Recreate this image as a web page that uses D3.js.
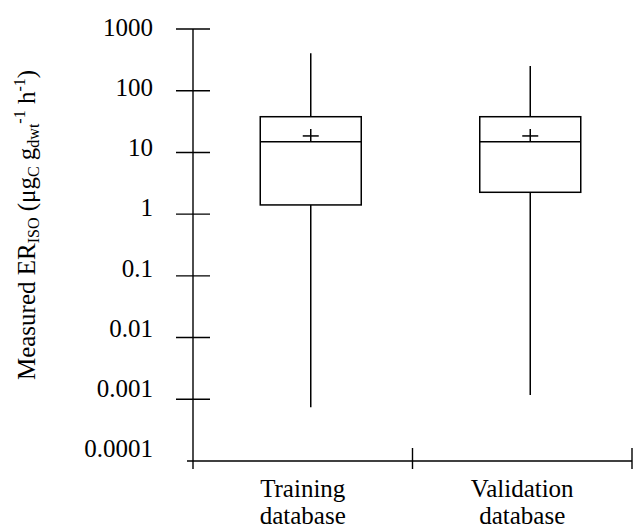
<!DOCTYPE html>
<html>
<head>
<meta charset="utf-8">
<script src="https://cdn.jsdelivr.net/npm/d3@7"></script>
<style>
  body { margin: 0; background: #fff; }
</style>
</head>
<body>
<div id="chart"></div>
<script>
// data
const categories = ["Training database", "Validation database"];
const categoryLines = [["Training", "database"], ["Validation", "database"]];
const whiskerLow = [0.00074, 0.00117];
const q1 = [1.41, 2.26];
const median = [14.9, 14.9];
const q3 = [37.9, 37.9];
const whiskerHigh = [404, 252];
const mean = [18.5, 18.5];
const yTicks = [0.0001, 0.001, 0.01, 0.1, 1, 10, 100, 1000];
const yTickLabels = ["0.0001", "0.001", "0.01", "0.1", "1", "10", "100", "1000"];

const width = 633, height = 529;
const plotLeft = 193, plotRight = 632, plotTop = 29, plotBottom = 461;
const serif = "'Liberation Serif', 'Times New Roman', Tinos, 'DejaVu Serif', serif";

const svg = d3.select("#chart").append("svg")
    .attr("width", width)
    .attr("height", height)
    .style("font-family", serif);

const x = d3.scaleBand().domain(categories).range([plotLeft, plotRight]);
const y = d3.scaleLog().domain([yTicks[0], yTicks[yTicks.length - 1]]).range([plotBottom, plotTop]);
// the tick labels sit on a slightly tighter spacing than the ticks in the original
const yLabel = d3.scaleLog().domain(y.domain()).range([448, 27.5]);

const data = categories.map((c, i) => ({
    cat: c, lines: categoryLines[i],
    lo: whiskerLow[i], q1: q1[i], med: median[i], q3: q3[i], hi: whiskerHigh[i], mean: mean[i]
}));

// y axis line + crossing ticks
const axisG = svg.append("g").attr("stroke", "#000").attr("stroke-width", 1.4);
axisG.append("line")
    .attr("x1", plotLeft).attr("x2", plotLeft)
    .attr("y1", y(yTicks[yTicks.length - 1])).attr("y2", plotBottom + 8);
axisG.selectAll(".ytick")
    .data(yTicks.slice(1))
    .enter().append("line")
    .attr("class", "ytick")
    .attr("x1", plotLeft - 17).attr("x2", plotLeft + 17)
    .attr("y1", d => y(d)).attr("y2", d => y(d));

svg.selectAll(".ylab")
    .data(yTicks)
    .enter().append("text")
    .attr("class", "ylab")
    .attr("x", 153)
    .attr("y", d => yLabel(d))
    .attr("dy", "0.35em")
    .attr("text-anchor", "end")
    .attr("font-family", serif)
    .style("font-size", "25px")
    .text((d, i) => yTickLabels[i]);

// x axis line + ticks at band edges
axisG.append("line")
    .attr("x1", plotLeft - 6).attr("x2", plotRight)
    .attr("y1", plotBottom).attr("y2", plotBottom);
const edges = categories.map(c => x(c)).concat([x(categories[categories.length - 1]) + x.bandwidth()]);
axisG.selectAll(".xtick")
    .data(edges.slice(1))
    .enter().append("line")
    .attr("class", "xtick")
    .attr("x1", d => d).attr("x2", d => d)
    .attr("y1", plotBottom - 13).attr("y2", plotBottom + 8);

const xl = svg.selectAll(".xlab")
    .data(data)
    .enter().append("text")
    .attr("class", "xlab")
    .attr("text-anchor", "middle")
    .attr("font-family", serif)
    .style("font-size", "25px");
xl.selectAll("tspan")
    .data(d => d.lines.map(t => ({ t, cx: x(d.cat) + x.bandwidth() / 2 })))
    .enter().append("tspan")
    .attr("x", d => d.cx)
    .attr("y", (d, i) => 497 + i * 26.5)
    .text(d => d.t);

// boxes
const boxW = 101;
const shift = 8;
const box = svg.selectAll(".box")
    .data(data)
    .enter().append("g")
    .attr("class", "box")
    .attr("transform", d => `translate(${x(d.cat) + x.bandwidth() / 2 + shift},0)`)
    .attr("stroke", "#000")
    .attr("stroke-width", 1.5);

box.append("line")
    .attr("y1", d => y(d.lo)).attr("y2", d => y(d.hi));
box.append("rect")
    .attr("x", -boxW / 2).attr("width", boxW)
    .attr("y", d => y(d.q3))
    .attr("height", d => y(d.q1) - y(d.q3))
    .attr("fill", "#fff");
box.append("line")
    .attr("x1", -boxW / 2).attr("x2", boxW / 2)
    .attr("y1", d => y(d.med)).attr("y2", d => y(d.med));
box.append("line")
    .attr("x1", -8).attr("x2", 8)
    .attr("y1", d => y(d.mean)).attr("y2", d => y(d.mean));
box.append("line")
    .attr("y1", d => y(d.mean) - 7).attr("y2", d => y(d.mean) + 6);

// y title with sub/superscripts
const title = svg.append("text")
    .attr("transform", "translate(35,225) rotate(-90)")
    .attr("text-anchor", "middle")
    .attr("font-family", serif)
    .style("font-size", "25px");
const parts = [
    { t: "Measured ER", s: 0 },
    { t: "ISO", s: 1 },
    { t: " (μg", s: 0 },
    { t: "C", s: 1 },
    { t: " g", s: 0 },
    { t: "dwt", s: 1 },
    { t: "-1", s: 2 },
    { t: " h", s: 0 },
    { t: "-1", s: 2 },
    { t: ")", s: 0 }
];
const offs = [0, 4, -10];
let cur = 0;
parts.forEach(p => {
    const target = offs[p.s];
    title.append("tspan")
        .attr("dy", target - cur)
        .style("font-size", p.s ? "16px" : "25px")
        .text(p.t);
    cur = target;
});
</script>
</body>
</html>
